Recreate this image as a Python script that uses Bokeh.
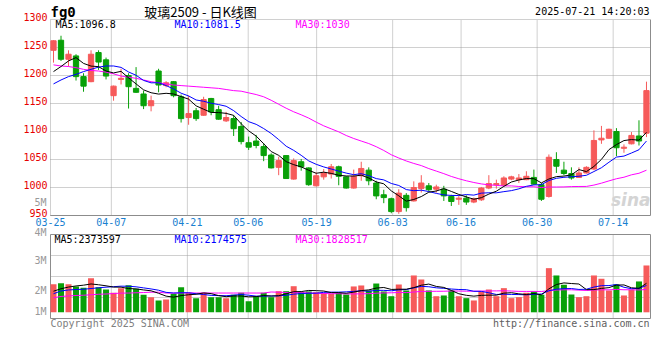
from bokeh.plotting import figure
from bokeh.models import Range1d, FixedTicker, Label, ColumnDataSource, LinearAxis
from bokeh.embed import file_html
from bokeh.resources import INLINE

# ---------------- data ----------------
dates = ["03-25", "03-26", "03-27", "03-28", "03-31", "04-01", "04-02", "04-03", "04-07", "04-08",
         "04-09", "04-10", "04-11", "04-14", "04-15", "04-16", "04-17", "04-18", "04-21", "04-22",
         "04-23", "04-24", "04-25", "04-28", "04-29", "04-30", "05-06", "05-07", "05-08", "05-09",
         "05-12", "05-13", "05-14", "05-15", "05-16", "05-19", "05-20", "05-21", "05-22", "05-23",
         "05-26", "05-27", "05-28", "05-29", "05-30", "06-03", "06-04", "06-05", "06-06", "06-09",
         "06-10", "06-11", "06-12", "06-13", "06-16", "06-17", "06-18", "06-19", "06-20", "06-23",
         "06-24", "06-25", "06-26", "06-27", "06-30", "07-01", "07-02", "07-03", "07-04", "07-07",
         "07-08", "07-09", "07-10", "07-11", "07-14", "07-15", "07-16", "07-17", "07-18", "07-21"]

open_ = [1245, 1263, 1229, 1235, 1198, 1189, 1241, 1228, 1164, 1193,
         1200, 1177, 1167, 1146, 1208, 1182, 1189, 1162, 1125, 1137,
         1129, 1159, 1139, 1119, 1123, 1109, 1080, 1083, 1073, 1058,
         1036, 1057, 1015, 1046, 1035, 1003, 1019, 1024, 1037, 1019,
         999, 1021, 1031, 1008, 987, 980, 957, 986, 976, 998,
         1003, 997, 997, 984, 979, 981, 974, 978, 999, 1005,
         1004, 1015, 1014, 1014, 1018, 1005, 984, 1050, 1031, 1025,
         1018, 1026, 1033, 1085, 1088, 1100, 1070, 1078, 1092, 1097]
high = [1263, 1271, 1245, 1238, 1204, 1245, 1245, 1232, 1182, 1212,
        1204, 1215, 1173, 1164, 1212, 1190, 1190, 1166, 1164, 1142,
        1162, 1160, 1146, 1135, 1129, 1117, 1091, 1094, 1079, 1061,
        1055, 1057, 1052, 1051, 1036, 1027, 1033, 1042, 1039, 1020,
        1032, 1046, 1036, 1012, 996, 982, 997, 990, 1011, 1022,
        1008, 1005, 1003, 987, 985, 986, 982, 1001, 1022, 1014,
        1020, 1021, 1024, 1029, 1032, 1008, 1059, 1063, 1046, 1036,
        1036, 1038, 1102, 1110, 1105, 1106, 1077, 1099, 1120, 1189]
low = [1223, 1226, 1216, 1191, 1171, 1188, 1210, 1193, 1155, 1184,
       1141, 1169, 1140, 1136, 1170, 1179, 1161, 1116, 1112, 1119,
       1128, 1129, 1121, 1117, 1092, 1077, 1067, 1070, 1047, 1034,
       1022, 1016, 1014, 1030, 1003, 1002, 1014, 1016, 1004, 998,
       998, 1012, 1004, 979, 972, 954, 953, 957, 975, 991,
       993, 991, 976, 967, 969, 969, 972, 976, 997, 998,
       1003, 1013, 1008, 1013, 1005, 976, 982, 1026, 1022, 1014,
       1017, 1025, 1031, 1078, 1087, 1056, 1062, 1077, 1075, 1090]
close = [1262, 1229, 1238, 1198, 1181, 1238, 1224, 1199, 1181, 1195,
         1180, 1170, 1146, 1155, 1183, 1187, 1164, 1123, 1132, 1123,
         1157, 1135, 1122, 1125, 1105, 1082, 1072, 1075, 1057, 1035,
         1048, 1016, 1048, 1037, 1005, 1021, 1026, 1037, 1020, 999,
         1020, 1034, 1012, 985, 982, 957, 990, 964, 1000, 1008,
         996, 1001, 985, 975, 981, 974, 980, 999, 1007, 1007,
         1017, 1019, 1017, 1020, 1006, 979, 1054, 1038, 1025, 1017,
         1026, 1036, 1084, 1088, 1104, 1071, 1072, 1093, 1083, 1173]
volume = [2300000, 2390000, 2300000, 2120000, 2010000, 2800000, 2060000, 1870000, 1600000, 1980000,
          2220000, 1930000, 1440000, 1240000, 970000, 1050000, 1520000, 2060000, 1600000, 1160000,
          1600000, 1240000, 1240000, 1160000, 1440000, 1600000, 910000, 1320000, 1600000, 1240000,
          1730000, 1730000, 2140000, 1650000, 1710000, 1650000, 1570000, 1500000, 1620000, 1460000,
          2120000, 2200000, 1790000, 2360000, 1710000, 1320000, 2280000, 1790000, 3020000, 2690000,
          1790000, 1320000, 1380000, 1790000, 1320000, 1160000, 970000, 1710000, 1870000, 1320000,
          1980000, 1160000, 1240000, 1600000, 1710000, 1440000, 3620000, 3020000, 2260000, 1460000,
          1240000, 1320000, 3020000, 2750000, 1790000, 2280000, 1380000, 1850000, 2530000, 3840000]

# moving-average values before the window is full (earlier data not shown)
ma5_head = [1207, 1216, 1226, 1232]
ma10_head = [1185, 1192, 1198, 1202, 1207, 1211, 1215, 1217, 1217]
ma30_head = [1219, 1217, 1216, 1214, 1211, 1209, 1208, 1206, 1203, 1199, 1197, 1195, 1192, 1189, 1187,
             1185, 1183, 1182, 1181, 1180, 1179, 1178, 1177, 1175, 1173, 1172, 1169, 1166, 1162]
vma5_head = [1730000, 1930000, 2070000, 2160000]
vma10_head = [1520000, 1750000, 1830000, 1870000, 1890000, 1950000, 2010000, 2060000, 2100000]
vma30_head = [1190000, 1300000, 1340000, 1380000, 1400000, 1440000, 1480000, 1500000, 1540000, 1570000,
              1580000, 1600000, 1620000, 1650000, 1650000, 1580000, 1570000, 1580000, 1600000, 1580000,
              1580000, 1580000, 1580000, 1580000, 1580000, 1580000, 1580000, 1580000, 1580000]

tick_dates = ["03-25", "04-07", "04-21", "05-06", "05-19", "06-03", "06-16", "06-30", "07-14"]
price_levels = [950, 1000, 1050, 1100, 1150, 1200, 1250, 1300]
vol_tick_labels = ["5M", "4M", "3M", "2M", "1M"]

title_code = "fg0"
title_text = "玻璃2509 - 日K线图"
stamp_text = "2025-07-21 14:20:03"
ma_price_texts = ["MA5:1096.8", "MA10:1081.5", "MA30:1030"]
ma_vol_texts = ["MA5:2373597", "MA10:2174575", "MA30:1828517"]
copyright_text = "Copyright 2025 SINA.COM"
url_text = "http://finance.sina.com.cn"


def moving_average(values, n, head):
    out = list(head)
    for i in range(n - 1, len(values)):
        out.append(sum(values[i - n + 1:i + 1]) / n)
    return out


# ---------------- style / layout ----------------
RED = "#f65a5a"
GREEN = "#08a008"
MONO = "DejaVu Sans Mono"
GRID = "#a0a0a0"
BORDER = "#8c8c8c"
DX = 7.506            # px per candle slot
PPX = 0.56            # px per price unit
VPX = 82000.0         # volume units per px


def px_x(px):
    return -0.4 + (px - 50) / DX


def px_p(py):
    return 950 + (215 - py) / PPX


def px_v(py):
    return (311.8 - py) * VPX


BOX_L, BOX_R = px_x(50), px_x(650)
VOL_TOP, VOL_BOT = px_v(234), px_v(318)
VOL_GRID = [px_v(297), px_v(276), px_v(255)]

n = len(dates)
xs = list(range(n))
colors = [RED if c >= o else GREEN for o, c in zip(open_, close)]
src = ColumnDataSource(dict(
    x=xs, high=high, low=low,
    top=[max(o, c) for o, c in zip(open_, close)],
    bottom=[min(o, c) for o, c in zip(open_, close)],
    vol=volume, color=colors))

ma5 = moving_average(close, 5, ma5_head)
ma10 = moving_average(close, 10, ma10_head)
ma30 = moving_average(close, 30, ma30_head)
vma5 = moving_average(volume, 5, vma5_head)
vma10 = moving_average(volume, 10, vma10_head)
vma30 = moving_average(volume, 30, vma30_head)

tick_pos = [dates.index(d) * 1.013 - 0.4 for d in tick_dates]

p = figure(frame_width=652, frame_height=336,
           x_range=Range1d(px_x(0), px_x(652)), y_range=Range1d(px_p(336), px_p(0)),
           output_backend="svg", toolbar_location=None,
           min_border_left=0, min_border_right=0, min_border_top=0, min_border_bottom=0)
p.extra_y_ranges = {"vol": Range1d(px_v(336), px_v(0))}
p.outline_line_color = None
p.background_fill_color = "white"
p.border_fill_color = "white"
p.xaxis.visible = False
p.xgrid.visible = False
p.ygrid.visible = False


def style_axis(ax, color, standoff):
    ax.axis_line_color = None
    ax.major_tick_line_color = None
    ax.minor_tick_line_color = None
    ax.major_tick_out = 0
    ax.major_tick_in = 0
    ax.minor_tick_out = 0
    ax.minor_tick_in = 0
    ax.major_label_standoff = standoff
    ax.major_label_text_color = color
    ax.major_label_text_font = MONO
    ax.major_label_text_font_size = "10px"


# price axis (left), drawn at the left edge of the chart box
label_ticks = [v + 4.46 for v in price_levels]
price_axis = p.yaxis[0]
price_axis.fixed_location = BOX_L
price_axis.ticker = FixedTicker(ticks=label_ticks)
price_axis.major_label_overrides = {t: str(v) for t, v in zip(label_ticks, price_levels)}
style_axis(price_axis, "#e60000", 3)

# volume axis labels (same column)
vol_label_ticks = [px_v(202), px_v(232), px_v(260.3), px_v(290.3), px_v(310.8)]
vol_axis = LinearAxis(y_range_name="vol", fixed_location=BOX_L,
                      ticker=FixedTicker(ticks=vol_label_ticks),
                      major_label_overrides={t: s for t, s in zip(vol_label_ticks, vol_tick_labels)})
style_axis(vol_axis, "#999999", 4)
p.add_layout(vol_axis, "left")

# date axis along the bottom of the price panel
date_axis = LinearAxis(fixed_location=950, bounds=(BOX_L, BOX_R),
                       ticker=FixedTicker(ticks=tick_pos),
                       major_label_overrides={t: d for t, d in zip(tick_pos, tick_dates)})
style_axis(date_axis, "#1a7fd0", 2)
p.add_layout(date_axis, "below")

# dotted grid lines, limited to each panel
k = len(price_levels)
p.segment(x0=[BOX_L] * k, y0=price_levels, x1=[BOX_R] * k, y1=price_levels,
          line_color=GRID, line_dash="1 1", line_width=1)
m = len(tick_pos)
p.segment(x0=tick_pos, y0=[950] * m, x1=tick_pos, y1=[1300] * m,
          line_color=GRID, line_dash="1 1", line_width=1)
g = len(VOL_GRID)
p.segment(x0=[BOX_L] * g, y0=VOL_GRID, x1=[BOX_R] * g, y1=VOL_GRID,
          line_color=GRID, line_dash="1 1", line_width=1, y_range_name="vol")
p.segment(x0=tick_pos[1:], y0=[VOL_BOT] * (m - 1), x1=tick_pos[1:], y1=[VOL_TOP] * (m - 1),
          line_color=GRID, line_dash="1 1", line_width=1, y_range_name="vol")

# solid borders
p.segment(x0=[BOX_L, BOX_R], y0=[950, 950], x1=[BOX_R, BOX_R], y1=[950, 1300],
          line_color=BORDER, line_width=1)
p.quad(left=[BOX_L], right=[BOX_R], bottom=[VOL_BOT], top=[VOL_TOP], fill_color=None,
       line_color=BORDER, line_width=1, y_range_name="vol")

# watermark
p.add_layout(Label(x=px_x(650), y=px_p(199), text="sina", text_color="#d4d4d4",
                   text_font_size="17px", text_font="DejaVu Sans", text_align="right",
                   text_baseline="middle", text_font_style="bold italic"))

# candles
p.segment(x0="x", y0="high", x1="x", y1="low", line_color="color", line_width=1, source=src)
p.vbar(x="x", width=0.7, top="top", bottom="bottom", fill_color="color", line_color="color",
       line_width=1, source=src)
p.line(xs, ma30, line_color="#ff00ff", line_width=1)
p.line(xs, ma10, line_color="#0000ff", line_width=1)
p.line(xs, ma5, line_color="#000000", line_width=1)

# volume
p.vbar(x="x", width=0.8, top="vol", bottom=0, fill_color="color", line_color=None, source=src,
       y_range_name="vol")
p.line(xs, vma30, line_color="#ff00ff", line_width=1, y_range_name="vol")
p.line(xs, vma10, line_color="#0000ff", line_width=1, y_range_name="vol")
p.line(xs, vma5, line_color="#000000", line_width=1, y_range_name="vol")


def add_label(x, y, text, color="black", size="10px", font=MONO, align="left", style="normal",
              rng="default"):
    p.add_layout(Label(x=x, y=y, text=text, text_color=color, text_font_size=size,
                       text_font=font, text_align=align, text_baseline="middle",
                       text_font_style=style, y_range_name=rng))


add_label(px_x(50), px_p(11), title_code, size="14px", style="bold")
add_label(px_x(200), px_p(11), title_text, size="13px", font="Noto Sans CJK SC", align="center")
add_label(px_x(649), px_p(11), stamp_text, align="right")
add_label(px_x(55), px_p(24), ma_price_texts[0], color="black")
add_label(px_x(174), px_p(24), ma_price_texts[1], color="#0000ff")
add_label(px_x(295), px_p(24), ma_price_texts[2], color="#ff00ff")
add_label(px_x(54), px_v(238.5), ma_vol_texts[0], color="black", rng="vol")
add_label(px_x(174), px_v(238.5), ma_vol_texts[1], color="#0000ff", rng="vol")
add_label(px_x(295), px_v(238.5), ma_vol_texts[2], color="#ff00ff", rng="vol")
add_label(px_x(50), px_v(323), copyright_text, color="#808080", rng="vol")
add_label(px_x(649), px_v(323), url_text, color="#606060", align="right", rng="vol")

open("out.html", "w").write(file_html(p, INLINE))
